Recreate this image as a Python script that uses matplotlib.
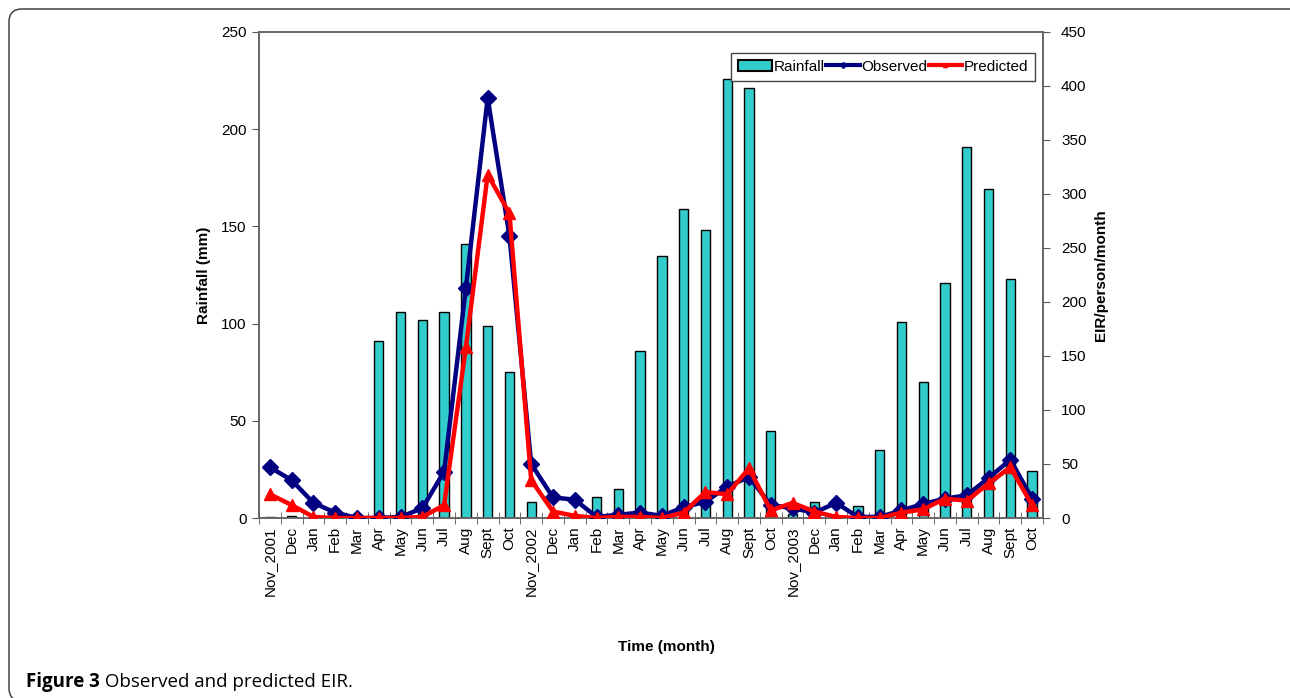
import matplotlib.pyplot as plt
from matplotlib.lines import Line2D
from matplotlib.patches import FancyBboxPatch, Patch
from matplotlib.transforms import IdentityTransform

MONTHS = [
    "Nov_2001", "Dec", "Jan", "Feb", "Mar", "Apr", "May", "Jun", "Jul", "Aug", "Sept", "Oct",
    "Nov_2002", "Dec", "Jan", "Feb", "Mar", "Apr", "May", "Jun", "Jul", "Aug", "Sept", "Oct",
    "Nov_2003", "Dec", "Jan", "Feb", "Mar", "Apr", "May", "Jun", "Jul", "Aug", "Sept", "Oct",
]

# rainfall in mm (left axis)
RAINFALL = [
    0.5, 1, 0, 0, 1.5, 91, 106, 102, 106, 141, 99, 75,
    8, 1, 0, 11, 15, 86, 135, 159, 148, 226, 221, 45,
    2, 8, 0, 6, 35, 101, 70, 121, 191, 169, 123, 24,
]

# EIR per person per month (right axis)
OBSERVED = [
    47, 35, 14, 5, 0, 0, 1, 9, 43, 213, 389, 261,
    50, 19, 17, 1, 3, 5, 2, 10, 15, 29, 38, 12,
    9, 5, 14, 1, 1, 7, 13, 18, 21, 37, 54, 18,
]
PREDICTED = [
    22, 12, 1, 0, 0, 0, 0, 1, 12, 158, 318, 282,
    35, 6, 2, 0, 1, 1, 0, 5, 24, 22, 46, 7,
    14, 6, 1, 0, 0, 5, 8, 18, 16, 32, 47, 12,
]

LEFT_TICKS = [0, 50, 100, 150, 200, 250]
RIGHT_TICKS = [0, 50, 100, 150, 200, 250, 300, 350, 400, 450]

plt.rcParams["font.family"] = ["Liberation Sans", "DejaVu Sans"]

fig = plt.figure(figsize=(12.9, 6.98), dpi=100)
fig.patch.set_facecolor("white")

# page frame: only the top and left edges fall inside the picture
frame = FancyBboxPatch(
    (9, -3), 1300, 692,
    boxstyle="round,pad=0,rounding_size=13",
    transform=IdentityTransform(), facecolor="none", edgecolor="#444444", linewidth=1.1,
)
fig.patches.append(frame)

ax = fig.add_axes([259 / 1290, 1 - 518 / 698, 784 / 1290, 486 / 698])
ax2 = ax.twinx()

x = list(range(len(MONTHS)))
ax.bar(x, RAINFALL, width=0.43, color="#33CCCC", edgecolor="black", linewidth=1.0, zorder=2)

ax2.plot(x, OBSERVED, color="#000080", linewidth=3.2, marker="D", markersize=8, zorder=3)
ax2.plot(x, PREDICTED, color="#FF0000", linewidth=3.2, marker="^", markersize=9, zorder=4)

ax.set_xlim(-0.5, len(MONTHS) - 0.5)
ax.set_ylim(0, 250)
ax2.set_ylim(0, 450)
ax.set_yticks(LEFT_TICKS)
ax2.set_yticks(RIGHT_TICKS)

ax.set_xticks(x)
ax.set_xticklabels(MONTHS, rotation=90, fontsize=11)
ax.tick_params(axis="x", length=0, pad=6)
ax.set_xticks([i + 0.5 for i in range(-1, len(MONTHS))], minor=True)
ax.tick_params(axis="x", which="minor", direction="inout", length=8, color="#555555")
ax.tick_params(axis="y", labelsize=11, color="#555555", length=5, pad=4)
ax2.tick_params(axis="y", labelsize=11, color="#555555", length=5, pad=8)

for a in (ax, ax2):
    for spine in a.spines.values():
        spine.set_color("#666666")
        spine.set_linewidth(1.2)

ax.set_ylabel("Rainfall (mm)", fontsize=11, weight="bold")
ax.yaxis.set_label_coords(-0.061, 0.5)
ax2.set_ylabel("EIR/person/month", fontsize=11, weight="bold")
ax2.yaxis.set_label_coords(1.065, 0.5)
ax.set_xlabel("Time (month)", fontsize=11, weight="bold")
ax.xaxis.set_label_coords(0.52, -0.251)

handles = [
    Patch(facecolor="#33CCCC", edgecolor="black", linewidth=1.5),
    Line2D([], [], color="#000080", linewidth=3, marker="D", markersize=3),
    Line2D([], [], color="#FF0000", linewidth=3, marker="^", markersize=3),
]
ax2.legend(
    handles, ["Rainfall", "Observed", "Predicted"],
    loc="upper right", bbox_to_anchor=(0.990, 0.957), ncol=3, fontsize=11,
    frameon=True, fancybox=False, edgecolor="#444444", framealpha=1,
    handlelength=2.2, handletextpad=0.1, columnspacing=0.1,
    borderpad=0.45, borderaxespad=0,
)

# caption: bold lead-in, then regular text on the same baseline
cap_y = 1 - 687 / 698
cap = fig.text(26 / 1290, cap_y, "Figure 3", fontsize=13.5, weight="bold",
               family=["Open Sans", "DejaVu Sans"], va="baseline")
fig.canvas.draw()
cap_end = cap.get_window_extent().x1
fig.text(cap_end / 1290, cap_y, " Observed and predicted EIR.", fontsize=13.5,
         family=["Open Sans", "DejaVu Sans"], va="baseline")

fig.savefig("out.png", dpi=100)
